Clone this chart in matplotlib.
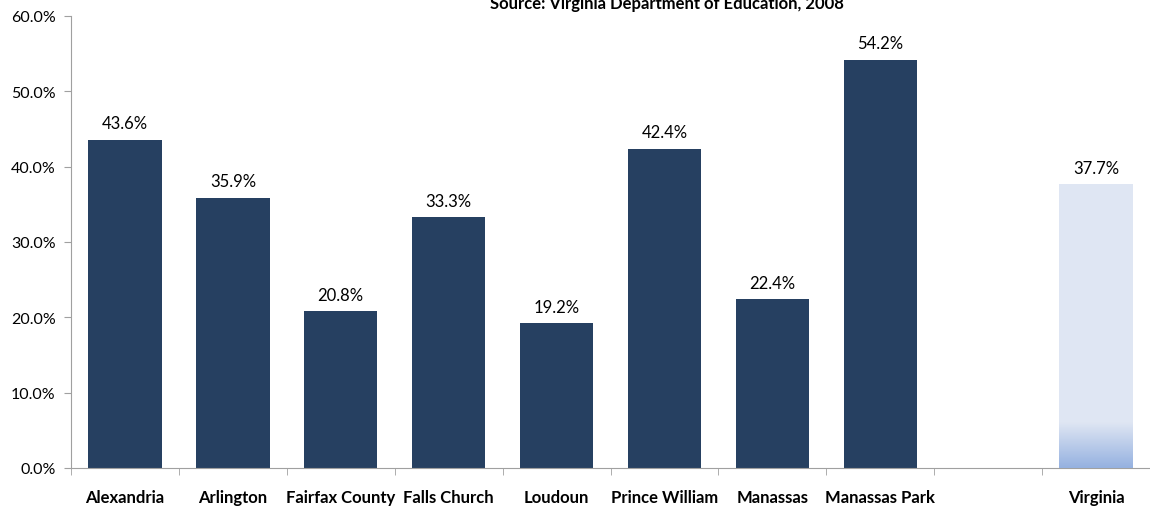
import matplotlib.pyplot as plt
import numpy as np
from matplotlib.colors import LinearSegmentedColormap

plt.rcParams["font.family"] = ["Lato", "DejaVu Sans"]

categories = [
    "Alexandria",
    "Arlington",
    "Fairfax County",
    "Falls Church",
    "Loudoun",
    "Prince William",
    "Manassas",
    "Manassas Park",
    "",
    "Virginia",
]
values = [43.6, 35.9, 20.8, 33.3, 19.2, 42.4, 22.4, 54.2, None, 37.7]
title = "Source: Virginia Department of Education, 2008"

W, H = 1150, 510
fig = plt.figure(figsize=(W / 100, H / 100), dpi=100)
ax = fig.add_axes([71 / W, 1 - 469 / H, (W - 71) / W, (469 - 17) / H])

x = np.arange(len(categories))
navy = "#264061"
bar_w = 0.68
for xi, v in zip(x, values):
    if v is None:
        continue
    if categories[xi] == "Virginia":
        ax.bar(xi, v, width=bar_w, color="#dfe6f3", zorder=2)
        # gradient strip at the foot of the bar
        cmap = LinearSegmentedColormap.from_list("vg", ["#95b1e0", "#dfe6f3"])
        grad = np.linspace(0, 1, 100).reshape(-1, 1)
        ax.imshow(grad, cmap=cmap, origin="lower", aspect="auto",
                  extent=(xi - bar_w / 2, xi + bar_w / 2, 0, 6.0), zorder=3)
    else:
        ax.bar(xi, v, width=bar_w, color=navy, zorder=2)
    ax.text(xi, v + 1.1, f"{v:.1f}%", ha="center", va="bottom",
            fontsize=12, color="#000000")

ax.set_xlim(-0.5, 9.39)
ax.set_ylim(0, 60)
ax.set_yticks(np.arange(0, 61, 10))
ax.set_yticklabels([f"{t:.1f}%" for t in np.arange(0, 61, 10)], fontsize=11.5)

ax.set_xticks(x)
ax.set_xticklabels(categories, fontsize=12, fontweight="bold")
ax.set_xticks(np.arange(-0.5, 9.6, 1), minor=True)
ax.tick_params(axis="x", which="major", length=0, pad=15)
ax.tick_params(axis="x", which="minor", length=5, direction="out", color="#a0a0a0")
ax.tick_params(axis="y", length=5, direction="out", color="#a0a0a0", pad=6)

for s in ["top", "right"]:
    ax.spines[s].set_visible(False)
for s in ["left", "bottom"]:
    ax.spines[s].set_color("#a0a0a0")

# the source line sits at the very top edge, as in the original export
fig.text(667 / W, 1 - 4 / H, title, ha="center", va="center",
         fontsize=12, fontweight="bold")

fig.savefig("out.png", dpi=100)
